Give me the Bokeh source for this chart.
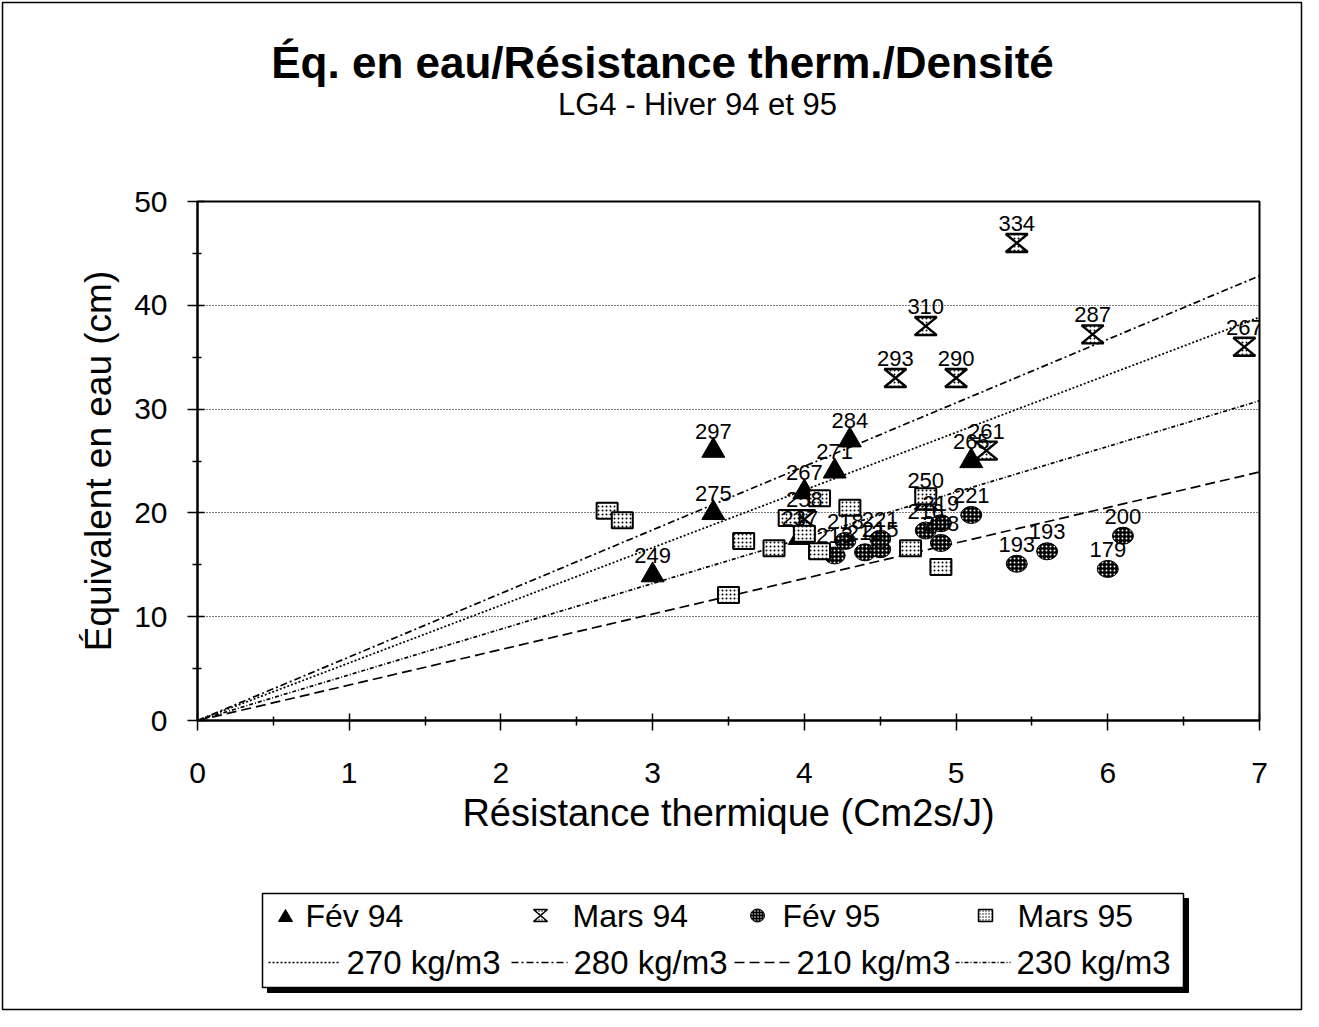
from bokeh.plotting import figure
from bokeh.models import Range1d, FixedTicker
from bokeh.core.properties import value
from bokeh.embed import file_html
from bokeh.resources import INLINE

# ---------------- data ----------------
fev94_x = [3.0, 3.4, 3.4, 3.97, 4.0, 4.2, 4.3, 5.1]
fev94_y = [14.0, 20.0, 26.0, 17.6, 22.0, 24.0, 27.0, 25.0]
fev94_lab = ["249", "275", "297", "237", "267", "271", "284", "265"]

mars94_x = [5.4, 4.8, 4.6, 5.0, 5.9, 6.9, 5.2, 4.0, 4.8]
mars94_y = [46.0, 38.0, 33.0, 33.0, 37.2, 36.0, 26.0, 19.4, 21.2]
mars94_lab = ["334", "310", "293", "290", "287", "267", "261", "258", "250"]

fev95_x = [4.2, 4.4, 4.5, 4.27, 4.5, 4.8, 4.9, 4.9, 5.1, 5.4, 5.6, 6.0, 6.1]
fev95_y = [15.9, 16.2, 16.5, 17.3, 17.5, 18.3, 19.0, 17.1, 19.8, 15.1, 16.3, 14.6, 17.8]
fev95_lab = ["213", "212", "215", "218", "221", "216", "219", "208", "221", "193", "193", "179", "200"]

mars95_x = [2.7, 2.8, 3.5, 3.6, 3.8, 3.9, 4.0, 4.1, 4.1, 4.3, 4.7, 4.8, 4.9]
mars95_y = [20.2, 19.3, 12.1, 17.3, 16.6, 19.5, 18.0, 21.4, 16.3, 20.5, 16.6, 21.6, 14.8]

density_labels = ["270 kg/m3", "280 kg/m3", "210 kg/m3", "230 kg/m3"]
density_slopes = [5.55, 6.12, 3.42, 4.4]   # cm per (Cm2s/J)

x_ticks = [0, 1, 2, 3, 4, 5, 6, 7]
y_ticks = [0, 10, 20, 30, 40, 50]

title = "Éq. en eau/Résistance therm./Densité"
subtitle = "LG4 - Hiver 94 et 95"
x_title = "Résistance thermique (Cm2s/J)"
y_title = "Équivalent en eau (cm)"

FONT = "Liberation Sans"

# ---------------- figure ----------------
W, H = 1303, 1011
FL, FT, FW, FH = 197, 201, 1062, 519          # plot frame in canvas pixels
p = figure(width=W, height=H, output_backend="svg", toolbar_location=None,
           x_range=Range1d(0, 7), y_range=Range1d(0, 50),
           min_border_left=FL, min_border_right=W - FL - FW,
           min_border_top=FT, min_border_bottom=H - FT - FH)
p.background_fill_color = "white"
p.border_fill_color = "white"
p.outline_line_color = "black"
p.outline_line_width = 2

# helpers: canvas-pixel -> data coordinates (for decorations outside the frame)
XS = FW / 7.0
YS = FH / 50.0
def dx(px):
    return (px - FL) / XS
def dy(py):
    return (FT + FH - py) / YS

# axes
for ax in (p.xaxis, p.yaxis):
    ax.axis_line_color = "black"
    ax.axis_line_width = 2
    ax.major_tick_line_color = "black"
    ax.major_tick_line_width = 1.5
    ax.minor_tick_line_color = "black"
    ax.minor_tick_line_width = 1.5
    ax.major_label_text_font = FONT
    ax.major_label_text_font_size = "30px"
    ax.major_label_text_color = "black"
    ax.axis_label_text_font = FONT
    ax.axis_label_text_font_style = "normal"
    ax.axis_label_text_color = "black"

p.xaxis.axis_label_text_font_size = "38px"
p.yaxis.axis_label_text_font_size = "37px"
p.xaxis.ticker = FixedTicker(ticks=x_ticks, minor_ticks=[t + 0.5 for t in x_ticks[:-1]])
p.yaxis.ticker = FixedTicker(ticks=y_ticks, minor_ticks=[t + 5 for t in y_ticks[:-1]])
p.xaxis.major_tick_out = 10
p.xaxis.major_tick_in = 7
p.xaxis.minor_tick_out = 5
p.xaxis.minor_tick_in = 4
p.yaxis.major_tick_out = 10
p.yaxis.major_tick_in = 7
p.yaxis.minor_tick_out = 5
p.yaxis.minor_tick_in = 4
p.xaxis.major_label_standoff = 32
p.yaxis.major_label_standoff = 20
p.xaxis.axis_label = x_title
p.yaxis.axis_label = y_title
p.xaxis.axis_label_standoff = 6
p.yaxis.axis_label_standoff = 12

p.xgrid.visible = False
p.ygrid.grid_line_color = "black"
p.ygrid.grid_line_width = 1.2
p.ygrid.grid_line_dash = "1 2"

# ---------------- density lines ----------------
dash_styles = ["2 2", "7 3 2 3", "10 5", "4 2 1 2"]
line_x = [0, 7.4]
for slope, dash in zip(density_slopes, dash_styles):
    p.line(line_x, [slope * v for v in line_x], line_color="black", line_width=1.7,
           line_dash=dash)

# ---------------- markers ----------------
HG_W, HG_H = 11 / XS, 9 / YS   # hourglass half sizes in data units

def hourglass(xc, yc, w=HG_W, h=HG_H):
    return ([xc - w, xc + w, xc - w, xc + w],
            [yc + h, yc + h, yc - h, yc - h])

p.scatter(fev94_x, fev94_y, marker="triangle", size=23, fill_color="black",
          line_color="black")

hx, hy = [], []
for a, b in zip(mars94_x, mars94_y):
    xs, ys = hourglass(a, b)
    hx.append(xs); hy.append(ys)
p.patches(hx, hy, fill_color="white", line_color="black", line_width=2.4,
          hatch_pattern="dot", hatch_color="black", hatch_scale=4, hatch_weight=1.2)

p.ellipse(fev95_x, fev95_y, width=21, height=17, width_units="screen",
          height_units="screen", fill_color="black", line_color="black",
          hatch_pattern="dot", hatch_color="white", hatch_scale=4, hatch_weight=1)

p.rect(mars95_x, mars95_y, width=21, height=16, width_units="screen",
       height_units="screen", fill_color="white", line_color="black", line_width=2,
       hatch_pattern="dot", hatch_color="black", hatch_scale=4, hatch_weight=1.3)

# data labels
for xs, ys, labs in ((fev94_x, fev94_y, fev94_lab), (mars94_x, mars94_y, mars94_lab),
                     (fev95_x, fev95_y, fev95_lab)):
    p.text(xs, ys, text=labs, y_offset=-12, text_align="center",
           text_baseline="bottom", text_font=value(FONT), text_font_size="22px",
           text_color="black")

# ---------------- titles ----------------
p.text([dx(662)], [dy(62)], text=[title], text_align="center", text_baseline="middle",
       text_font=value(FONT), text_font_size="44px", text_font_style="bold",
       text_color="black", level="overlay")
p.text([dx(697)], [dy(104)], text=[subtitle], text_align="center",
       text_baseline="middle", text_font=value(FONT), text_font_size="31px",
       text_color="black", level="overlay")

# ---------------- legend box ----------------
p.quad(left=[dx(267)], right=[dx(1188)], top=[dy(898)], bottom=[dy(992)],
       fill_color="black", line_color="black", level="overlay")
p.quad(left=[dx(262)], right=[dx(1183)], top=[dy(893)], bottom=[dy(987)],
       fill_color="white", line_color="black", line_width=1.5, level="overlay")

r1 = dy(915)
r2 = dy(962)
tw, th = 7 / XS, 6 / YS
p.patch([dx(285) - tw, dx(285) + tw, dx(285)], [r1 - th, r1 - th, r1 + th],
        fill_color="black", line_color="black", level="overlay")
lx, ly = hourglass(dx(540), r1, 7 / XS, 6 / YS)
p.patch(lx, ly, fill_color="white", line_color="black", line_width=1.6,
        hatch_pattern="dot", hatch_color="black", hatch_scale=3, level="overlay")
p.ellipse([dx(757)], [r1], width=14, height=13, width_units="screen",
          height_units="screen", fill_color="black", line_color="black",
          hatch_pattern="dot", hatch_color="white", hatch_scale=3, level="overlay")
p.rect([dx(985)], [r1], width=14, height=12, width_units="screen",
       height_units="screen", fill_color="white", line_color="black", line_width=1.5,
       hatch_pattern="dot", hatch_color="black", hatch_scale=3, level="overlay")

leg_names = ["Fév 94", "Mars 94", "Fév 95", "Mars 95"]
leg_tx1 = [305, 572, 782, 1017]
p.text([dx(v) for v in leg_tx1], [r1] * 4, text=leg_names, text_align="left",
       text_baseline="middle", text_font=value(FONT), text_font_size="32px",
       text_color="black", level="overlay")

seg_l = [268, 511, 734, 955]
seg_r = [338, 567, 790, 1010]
for a, b, dash in zip(seg_l, seg_r, dash_styles):
    p.line([dx(a), dx(b)], [r2, r2], line_color="black", line_width=1.3,
           line_dash=dash, level="overlay")
leg_tx2 = [346, 573, 796, 1016]
p.text([dx(v) for v in leg_tx2], [r2] * 4, text=density_labels, text_align="left",
       text_baseline="middle", text_font=value(FONT), text_font_size="33px",
       text_color="black", level="overlay")

# outer border of the whole chart
p.quad(left=[dx(2)], right=[dx(1301)], top=[dy(2)], bottom=[dy(1009)],
       fill_alpha=0, line_color="black", line_width=1.5, level="overlay")

open("out.html", "w").write(file_html(p, INLINE))
